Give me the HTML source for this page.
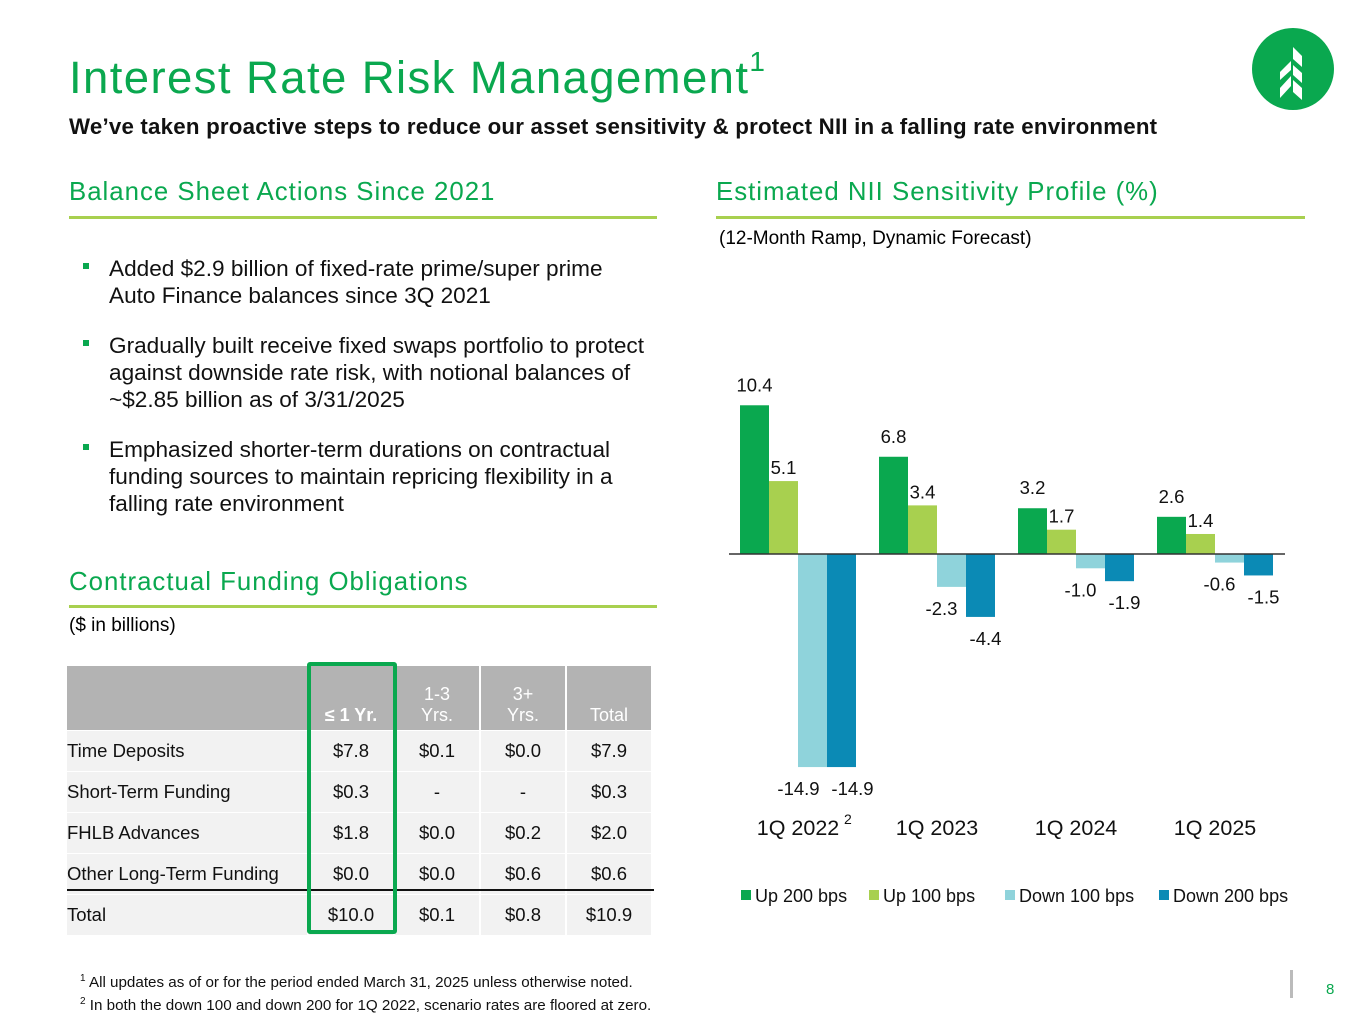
<!DOCTYPE html>
<html><head><meta charset="utf-8"><style>
body{margin:0;width:1365px;height:1024px;background:#fff;font-family:"Liberation Sans",sans-serif;position:relative;overflow:hidden}
.a{position:absolute}
h1{position:absolute;left:69px;top:52px;margin:0;font-weight:normal;color:#0aa84f;font-size:45.5px;letter-spacing:1.4px;white-space:nowrap}
h1 sup{font-size:28px;vertical-align:top;position:relative;top:-6px}
.sub{left:69px;top:114px;font-weight:bold;font-size:22.3px;color:#111;white-space:nowrap;letter-spacing:.2px}
.sec{color:#0aa84f;font-size:25.8px;letter-spacing:1px;white-space:nowrap}
.rule{height:3px;background:#a8d04f}
ul{position:absolute;left:80px;top:255px;margin:0;padding:0;list-style:none;width:600px}
li{position:relative;padding-left:29px;font-size:22.6px;line-height:27px;margin-bottom:23px;color:#111;white-space:nowrap}
li:before{content:"";position:absolute;left:3px;top:8px;width:6px;height:6px;background:#0aa84f}
table{position:absolute;left:65px;top:665px;border-collapse:separate;border-spacing:2px 1px;table-layout:fixed}
td{background:#f2f2f2;font-size:18.5px;height:40px;text-align:center;padding:0;color:#111;width:84px}
td.l{text-align:left;width:240px}
th{background:#b3b3b3;color:#fff;font-weight:normal;font-size:18px;height:60px;vertical-align:bottom;padding:0 0 4px;width:84px}
</style></head><body>
<h1>Interest Rate Risk Management<sup>1</sup></h1>
<div class="a sub">We’ve taken proactive steps to reduce our asset sensitivity &amp; protect NII in a falling rate environment</div>
<svg class="a" style="left:1252px;top:28px" width="82" height="82"><circle cx="41" cy="41" r="41" fill="#0aa84f"/><path d="M41 19 L50 28 L50 39 L41 31 Z M41 37 L50 45 L50 55 L41 47 Z M41 52 L50 60 L50 72 L41 64 Z" fill="#fff"/><path d="M39 33 L39 42 L28 52 L28 44 Z M39 48 L39 58 L28 70 L28 60 Z" fill="#fff"/></svg>

<div class="a sec" style="left:69px;top:178px">Balance Sheet Actions Since 2021</div>
<div class="a rule" style="left:69px;top:216px;width:588px"></div>
<ul>
<li>Added $2.9 billion of fixed-rate prime/super prime<br>Auto Finance balances since 3Q 2021</li>
<li>Gradually built receive fixed swaps portfolio to protect<br>against downside rate risk, with notional balances of<br>~$2.85 billion as of 3/31/2025</li>
<li>Emphasized shorter-term durations on contractual<br>funding sources to maintain repricing flexibility in a<br>falling rate environment</li>
</ul>

<div class="a sec" style="left:69px;top:568px">Contractual Funding Obligations</div>
<div class="a rule" style="left:69px;top:605px;width:588px"></div>
<div class="a" style="left:69px;top:615px;font-size:19px">($ in billions)</div>
<table>
<tr><th style="width:240px"></th><th style="font-weight:bold">≤ 1 Yr.</th><th>1-3<br>Yrs.</th><th>3+<br>Yrs.</th><th>Total</th></tr>
<tr><td class="l">Time Deposits</td><td>$7.8</td><td>$0.1</td><td>$0.0</td><td>$7.9</td></tr>
<tr><td class="l">Short-Term Funding</td><td>$0.3</td><td>-</td><td>-</td><td>$0.3</td></tr>
<tr><td class="l">FHLB Advances</td><td>$1.8</td><td>$0.0</td><td>$0.2</td><td>$2.0</td></tr>
<tr><td class="l">Other Long-Term Funding</td><td>$0.0</td><td>$0.0</td><td>$0.6</td><td>$0.6</td></tr>
<tr><td class="l">Total</td><td>$10.0</td><td>$0.1</td><td>$0.8</td><td>$10.9</td></tr>
</table>
<div class="a" style="left:67px;top:889px;width:587px;height:2px;background:#111"></div>
<div class="a" style="left:307px;top:662px;width:82px;height:264px;border:4px solid #0aa84f;border-radius:3px"></div>

<div class="a sec" style="left:716px;top:178px">Estimated NII Sensitivity Profile (%)</div>
<div class="a rule" style="left:716px;top:216px;width:589px"></div>
<div class="a" style="left:719px;top:228px;font-size:19px">(12-Month Ramp, Dynamic Forecast)</div>
<svg id="ch" class="a" style="left:0;top:0" width="1365" height="1024"></svg>

<div class="a" style="left:1290px;top:970px;width:3px;height:28px;background:#bbb"></div>
<div class="a" style="left:1326px;top:981px;font-size:15px;color:#0aa84f">8</div>
<div class="a" style="left:80px;top:969px;font-size:15.2px;line-height:19px;color:#111;white-space:nowrap"><sup style="font-size:10px">1</sup> All updates as of or for the period ended March 31, 2025 unless otherwise noted.<br><sup style="font-size:10px">2</sup> In both the down 100 and down 200 for 1Q 2022, scenario rates are floored at zero.</div>

<script>
const categories=["1Q 2022","1Q 2023","1Q 2024","1Q 2025"];
const seriesNames=["Up 200 bps","Up 100 bps","Down 100 bps","Down 200 bps"];
const up200=[10.4,6.8,3.2,2.6];
const up100=[5.1,3.4,1.7,1.4];
const down100=[-14.9,-2.3,-1.0,-0.6];
const down200=[-14.9,-4.4,-1.9,-1.5];
const colors=["#0aa84f","#a8d04f","#8fd3db","#0b8ab5"];
const series=[up200,up100,down100,down200];
const svg=document.getElementById('ch');const NS="http://www.w3.org/2000/svg";
const base=554,k=14.3,g0=740,gs=139,bw=29;
const y=v=>base-v*k, x=(c,s)=>g0+c*gs+s*bw;
const dxs=[0,0,-10,5];
function mk(t,a){const e=document.createElementNS(NS,t);for(const n in a)e.setAttribute(n,a[n]);svg.appendChild(e);return e;}
series.forEach((arr,s)=>arr.forEach((v,c)=>{
 const r=mk('rect',{x:x(c,s),y:Math.min(y(v),base),width:bw,height:Math.abs(v*k),fill:colors[s]});
 
 
 const ly=v>=0?y(v)-(s==0?14:7):y(v)+28;
 const t=mk('text',{x:x(c,s)+bw/2+dxs[s]+(c==0&&s>=2?(s==2?-4:6):0),y:ly,'text-anchor':'middle','font-size':18.5,fill:'#111','font-family':'Liberation Sans'});
 t.textContent=v.toFixed(1);
 
 
}));
const ax=mk('line',{x1:729,x2:1285,y1:base,y2:base,stroke:'#333','stroke-width':1.5});


categories.forEach((c,i)=>{
 const t=mk('text',{x:g0+i*gs+2*bw,y:835,'text-anchor':'middle','font-size':21.5,fill:'#111','font-family':'Liberation Sans'});
 t.textContent=c;
 
 
});
const sp=mk('text',{x:844,y:824,'font-size':14,fill:'#111','font-family':'Liberation Sans'});sp.textContent='2';


const lx=[741,869,1005,1159];
seriesNames.forEach((n,i)=>{
 const r=mk('rect',{x:lx[i],y:890,width:10,height:10,fill:colors[i]});
 
 
 const t=mk('text',{x:lx[i]+14,y:902,'font-size':18,fill:'#111','font-family':'Liberation Sans'});t.textContent=n;
 
 
});
</script>
</body></html>
